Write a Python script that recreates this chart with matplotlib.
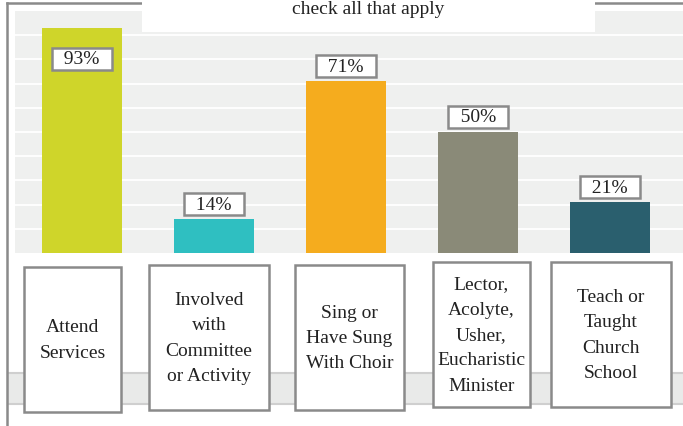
import matplotlib
matplotlib.use("Agg")
import matplotlib.pyplot as plt
from matplotlib.patches import Rectangle
from matplotlib.lines import Line2D

categories = ["Attend\nServices",
              "Involved\nwith\nCommittee\nor Activity",
              "Sing or\nHave Sung\nWith Choir",
              "Lector,\nAcolyte,\nUsher,\nEucharistic\nMinister",
              "Teach or\nTaught\nChurch\nSchool"]
values = [93, 14, 71, 50, 21]
colors = ["#cfd52a", "#2fbfc1", "#f5ac1e", "#8a8a78", "#2a5f6e"]
title = "check all that apply"

W, H = 683, 427
FONT = ["Liberation Serif", "DejaVu Serif"]
EDGE = "#8a8a8a"

def fx(x):
    return x / W

def fy(y):
    return 1 - y / H

fig = plt.figure(figsize=(W / 100, H / 100), dpi=100)
fig.patch.set_facecolor("white")

# plot area
ax = fig.add_axes([fx(15), fy(254), fx(683 - 15), (254 - 12) / H])
ax.set_facecolor("#eff0ef")
x = range(len(values))
ax.bar(x, values, width=0.606, color=colors, zorder=3)
ax.set_xlim(-0.508, 4.553)
ax.set_ylim(0, 100)
ax.set_yticks(range(10, 100, 10))
ax.set_xticks([])
ax.yaxis.grid(True, color="white", lw=1.3, zorder=1)
ax.tick_params(left=False, labelleft=False)
for s in ax.spines.values():
    s.set_visible(False)

# value labels in grey-framed white boxes
for i, v in enumerate(values):
    off = -31 if v > 85 else 15
    ax.annotate("  %d%%  " % v, (i, v), xytext=(0, off * 0.72),
                textcoords="offset points", ha="center", va="center",
                fontsize=14, family=FONT, color="#222222", zorder=5,
                bbox=dict(boxstyle="square,pad=0.14", fc="white",
                          ec=EDGE, lw=1.8))

# grey band behind the category boxes
fig.add_artist(Rectangle((fx(8), fy(405)), fx(683 - 8), (405 - 374) / H,
                         transform=fig.transFigure, fc="#e9eae9",
                         ec="none", zorder=0))
for yy in (374, 405):
    fig.add_artist(Line2D([fx(8), 1], [fy(yy), fy(yy)], color="#cfcfcf",
                          lw=1.5, transform=fig.transFigure, zorder=0))

# category boxes (left, top, right, bottom in pixels)
boxes = [(24, 268, 121, 413), (149, 266, 269, 411), (295, 266, 404, 411),
         (433, 263, 530, 408), (551, 263, 671, 408)]
for lab, (l, t, r, b) in zip(categories, boxes):
    fig.add_artist(Rectangle((fx(l), fy(b)), fx(r - l), (b - t) / H,
                             transform=fig.transFigure, fc="white",
                             ec=EDGE, lw=1.8, zorder=2))
    fig.text(fx((l + r) / 2), fy((t + b) / 2), lab, ha="center",
             va="center", ma="center", fontsize=14, family=FONT,
             linespacing=1.65, color="#222222", zorder=3)

# outer frame
fig.add_artist(Line2D([fx(7), fx(7)], [fy(4), 0], color=EDGE, lw=1.8,
                      transform=fig.transFigure, zorder=4))
fig.add_artist(Line2D([fx(7), 1], [fy(4), fy(4)], color=EDGE, lw=1.8,
                      transform=fig.transFigure, zorder=4))

# title box
fig.add_artist(Rectangle((fx(142), fy(33)), fx(595 - 142), 33 / H + 0.01,
                         transform=fig.transFigure, fc="white", ec="none",
                         zorder=5))
fig.text(fx(368), fy(10), title, ha="center", va="center", fontsize=14,
         family=FONT, color="#222222", zorder=6)

fig.savefig("out.png", dpi=100)
